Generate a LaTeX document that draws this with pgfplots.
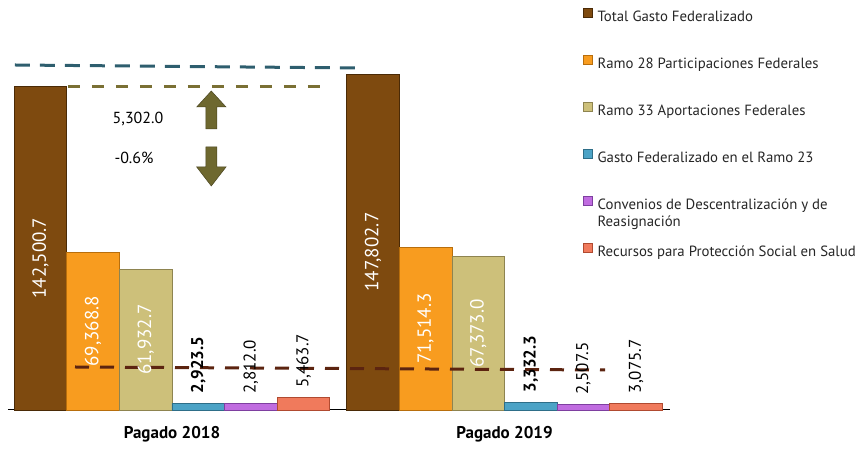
\documentclass[border=0pt]{standalone}
\usepackage{pgfplots}
\pgfplotsset{compat=1.18}
\usepackage{fontspec}
\setmainfont{PT Sans}
\definecolor{cBrown}{HTML}{7E4A0F}
\definecolor{cBrownD}{HTML}{4A2A06}
\definecolor{cOrange}{HTML}{F89C1F}
\definecolor{cOrangeD}{HTML}{B86E0C}
\definecolor{cKhaki}{HTML}{CDC07A}
\definecolor{cKhakiD}{HTML}{8E8450}
\definecolor{cBlue}{HTML}{4CA3C6}
\definecolor{cBlueD}{HTML}{2E6E88}
\definecolor{cPurple}{HTML}{C06CE0}
\definecolor{cPurpleD}{HTML}{7E3FA0}
\definecolor{cSalmon}{HTML}{F07A5C}
\definecolor{cSalmonD}{HTML}{B04A30}
\definecolor{cTeal}{HTML}{2E5E6E}
\definecolor{cOliveDash}{HTML}{7A7034}
\definecolor{cBrownDash}{HTML}{5C2410}
\definecolor{cArrow}{HTML}{6E682F}
\definecolor{cArrowD}{HTML}{4A4520}
\definecolor{legtext}{HTML}{262626}
\pgfplotsset{
  barbase/.style={line width=0.8pt, fill=#1, draw=#1D,
    legend image code/.code={\path[##1,line width=0.4pt] (0pt,0pt) rectangle (9pt,9pt);}},
  inlab/.style={nodes near coords={\pgfmathprintnumber[fixed,fixed zerofill,precision=1,1000 sep={,}]{\pgfplotspointmeta}},
    visualization depends on={rawy/880 \as \halfpt},
    every node near coord/.append style={yshift=-\halfpt pt-#1, rotate=90, anchor=center,
      font=\fontsize{19}{22}\selectfont, text=white}},
  inlab/.default={0pt},
  smalllab/.style={nodes near coords={\pgfmathprintnumber[fixed,fixed zerofill,precision=1,1000 sep={,}]{\pgfplotspointmeta}},
    every node near coord/.append style={rotate=90, anchor=west, inner xsep=9.5pt, inner ysep=0pt,
      font=\fontsize{17}{20}\selectfont#1, text=black}},
  smalllab/.default={},
}
\begin{document}
\begin{tikzpicture}
\useasboundingbox (-8pt,-39pt) rectangle (847pt,410pt);
\begin{axis}[
  scale only axis, width=662pt, height=390pt,
  at={(0pt,0pt)}, anchor=south west,
  xmin=-0.4932, xmax=1.4977, ymin=0, ymax=171600,
  ybar=0pt, bar width=52.6pt,
  axis x line=bottom, axis y line=none,
  axis line style={-, line width=1pt, black},
  xtick={0,1}, xticklabels={Pagado 2018, Pagado 2019},
  major tick length=0pt,
  xticklabel style={font=\fontsize{17}{20}\selectfont\bfseries, yshift=-13pt},
  ytick=\empty,
  clip=false,
  /pgf/number format/assume math mode=true,
  legend cell align=left,
  legend style={draw=none, fill=none, at={(0.8686,1.0315)}, anchor=north west,
    inner sep=0pt, row sep=30.8pt, column sep=5pt,
    nodes={inner sep=0pt, text height=11pt, text depth=3pt,
      font=\fontsize{14.8}{17.5}\selectfont, text=legtext}},
]
\addplot[barbase=cBrown, inlab=10pt] coordinates {(0,142500.7) (1,147802.7)};
\addlegendentry{Total Gasto Federalizado}
\addplot[barbase=cOrange, inlab] coordinates {(0,69368.8) (1,71514.3)};
\addlegendentry{Ramo 28 Participaciones Federales}
\addplot[barbase=cKhaki, inlab] coordinates {(0,61932.7) (1,67373.0)};
\addlegendentry{Ramo 33 Aportaciones Federales}
\addplot[barbase=cBlue, smalllab=\bfseries] coordinates {(0,2923.5) (1,3332.3)};
\addlegendentry{Gasto Federalizado en el Ramo 23}
\addplot[barbase=cPurple, smalllab] coordinates {(0,2812.0) (1,2507.5)};
\addlegendentry{\begin{tabular}[t]{@{}l@{}}Convenios de Descentralización y de\\Reasignación\end{tabular}}
\addplot[barbase=cSalmon, smalllab] coordinates {(0,5463.7) (1,3075.7)};
\addlegendentry{Recursos para Protección Social en Salud}
\draw[cTeal, line width=3pt, dash pattern=on 15pt off 10pt] (axis cs:-0.4722,151800) -- (axis cs:0.5654,150480);
\draw[cOliveDash, line width=3pt, dash pattern=on 12pt off 12pt] (axis cs:-0.3128,142500.7) -- (axis cs:0.4511,142500.7);
\draw[cBrownDash, line width=3pt, dash pattern=on 14pt off 11pt] (axis cs:-0.2917,18920) -- (axis cs:1.3023,17600);
\end{axis}
\path[fill=cArrow, draw=cArrowD, line width=0.5pt] (203.3pt,319pt) -- (218pt,303pt) -- (208.8pt,303pt) -- (208.8pt,281pt) -- (197.8pt,281pt) -- (197.8pt,303pt) -- (188.7pt,303pt) -- cycle;
\path[fill=cArrow, draw=cArrowD, line width=0.5pt] (197.8pt,263pt) -- (208.8pt,263pt) -- (208.8pt,243pt) -- (218pt,243pt) -- (203.3pt,224pt) -- (188.7pt,243pt) -- (197.8pt,243pt) -- cycle;
\node[font=\fontsize{16}{19}\selectfont] at (130pt,291pt) {5,302.0};
\node[font=\fontsize{16}{19}\selectfont] at (126pt,252pt) {-0.6\%};
\end{tikzpicture}
\end{document}
